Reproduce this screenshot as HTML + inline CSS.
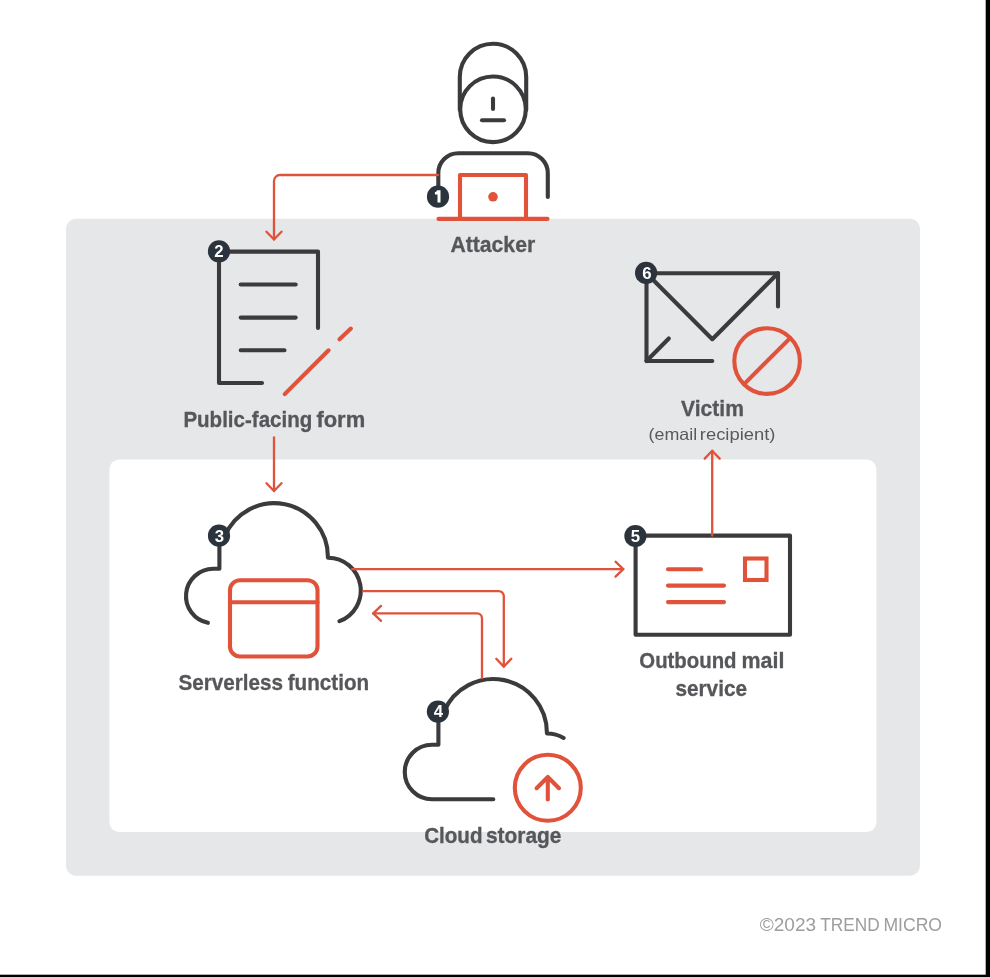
<!DOCTYPE html>
<html><head><meta charset="utf-8">
<style>
html,body{margin:0;padding:0;background:#fff;width:990px;height:977px;overflow:hidden}
svg{display:block;position:absolute;left:0;top:0;will-change:transform}
</style></head>
<body>
<svg width="990" height="977" viewBox="0 0 990 977">
<rect x="0" y="0" width="990" height="977" fill="#fff"/>
<rect x="985.7" y="0" width="4.3" height="977" fill="#000"/>
<rect x="0" y="974.7" width="990" height="2.3" fill="#000"/>
<rect x="66" y="218.7" width="854" height="657" rx="10" fill="#e6e7e8"/>
<rect x="109.4" y="459.4" width="767" height="372.7" rx="10" fill="#fff"/>

<g fill="none" stroke="#3b3b3e" stroke-width="4.1" stroke-linecap="round" stroke-linejoin="round">
  <!-- attacker -->
  <path d="M459.8 110 V77 A33.2 33.2 0 0 1 526.2 77 V110"/>
  <circle cx="493" cy="109.3" r="32.8"/>
  <path d="M493 98.5 V109"/>
  <path d="M482 120.2 H504"/>
  <path d="M438.3 190 V173.2 A20 20 0 0 1 458.3 153.2 H527.8 A20 20 0 0 1 547.8 173.2 V197"/>
  <!-- form -->
  <path d="M318 328 V251.6 H219 V383 H262"/>
  <path d="M240.7 284.5 H295.7 M240.7 317.6 H295.7 M240.7 350.2 H284.5"/>
  <!-- victim -->
  <path d="M778 306.5 V273.2 H646.5 V361 H712.3"/>
  <path d="M646.5 273.2 L712.3 339.2 L778 273.2"/>
  <path d="M646.5 361 L668.8 338.5"/>
  <!-- serverless cloud -->
  <path d="M219.4 545 V568.8 H213.3 A27.3 27.3 0 0 0 207.9 622.86"/>
  <path d="M225 535.8 A53.6 53.6 0 0 1 327.9 556.8 L328 557.7 A32.8 32.8 0 0 1 339.5 621.2"/>
  <!-- mail service -->
  <rect x="635.6" y="535.6" width="154.4" height="99.2"/>
  <!-- storage cloud -->
  <path d="M438.4 722 V744.8 H432 A27.25 27.25 0 0 0 432 799.3 H493.3"/>
  <path d="M444 711.6 A53.6 53.6 0 0 1 546.9 732.6 L547 733.5 A32.8 32.8 0 0 1 563.6 737.9"/>
</g>

<g fill="none" stroke="#e0533a" stroke-width="4.1" stroke-linecap="round" stroke-linejoin="round">
  <path d="M460 218.9 V175 H526 V218.9"/>
  <path d="M438.5 218.9 H547.5"/>
  <path d="M284.7 394.1 L328.6 350.3 M339.5 339.3 L350.9 328.6"/>
  <circle cx="767.1" cy="361.1" r="32.8"/>
  <path d="M790.1 338.1 L744.1 384.1"/>
  <rect x="230" y="580.2" width="87.5" height="76.3" rx="10"/>
  <path d="M230 602.3 H317.5"/>
  <path d="M668 569.3 H701 M668 585.6 H724 M668 602.1 H724"/>
  <rect x="745" y="558.5" width="21.5" height="21.5" stroke-linejoin="miter"/>
  <circle cx="547.8" cy="787.8" r="33"/>
  <path d="M547.8 799.5 V777 M536.6 788.2 L547.8 777 L559 788.2"/>
</g>
<circle cx="493" cy="196.8" r="4.8" fill="#e0533a"/>

<g fill="none" stroke="#e0533a" stroke-width="2.3" stroke-linecap="round" stroke-linejoin="round">
  <path d="M438 175 H280 A6 6 0 0 0 274 181 V239.5"/>
  <path d="M266.5 231.7 L274 239.5 L281.5 231.7"/>
  <path d="M274 437.5 V491"/>
  <path d="M266.5 483.2 L274 491 L281.5 483.2"/>
  <path d="M712.2 535.6 V450.8"/>
  <path d="M704.7 458.6 L712.2 450.8 L719.7 458.6"/>
  <path d="M352 569.2 H623.3"/>
  <path d="M615.5 561.7 L623.3 569.2 L615.5 576.7"/>
  <path d="M363 591.1 H498.8 A5 5 0 0 1 503.8 596.1 V666.6"/>
  <path d="M496.3 658.8 L503.8 666.6 L511.3 658.8"/>
  <path d="M482 678 V618.4 A5 5 0 0 0 477 613.4 H373.2"/>
  <path d="M381.0 605.9 L373.2 613.4 L381.0 620.9"/>
</g>

<g fill="#2b343c">
  <circle cx="438" cy="196.7" r="11.1"/>
  <circle cx="219" cy="251.4" r="11.1"/>
  <circle cx="219" cy="535.7" r="11.1"/>
  <circle cx="437.9" cy="711.6" r="11.1"/>
  <circle cx="635.4" cy="536" r="11.1"/>
  <circle cx="646.1" cy="272.9" r="11.1"/>
</g>
<g fill="#fff" font-family="Liberation Sans" font-weight="700" font-size="16.8" text-anchor="middle">
  <text x="219" y="257.4">2</text>
  <text x="219.3" y="541.9">3</text>
  <text x="438.4" y="717.4">4</text>
  <text x="635.5" y="542.2">5</text>
  <text x="647" y="279.2">6</text>
</g>

<path d="M437.1 190.3 H440.5 V202.6 H437.5 V194.4 H434.9 V192.2 Q436.8 192 437.1 190.3 Z" fill="#fff"/>
<g fill="#56575a" stroke="#56575a" stroke-width="0.3" font-family="Liberation Sans" font-weight="700" font-size="21.4">
  <text x="450.4" y="251.8" textLength="84.8" lengthAdjust="spacingAndGlyphs">Attacker</text>
  <text x="183.4" y="426.7" textLength="128.85" lengthAdjust="spacingAndGlyphs">Public-facing</text>
  <text x="316.4" y="426.7" textLength="48.82" lengthAdjust="spacingAndGlyphs">form</text>
  <text x="681.1" y="416.3" textLength="62.82" lengthAdjust="spacingAndGlyphs">Victim</text>
  <text x="178.5" y="689.5" textLength="104.62" lengthAdjust="spacingAndGlyphs">Serverless</text>
  <text x="287.7" y="689.5" textLength="81.42" lengthAdjust="spacingAndGlyphs">function</text>
  <text x="639.3" y="667.7" textLength="97.25" lengthAdjust="spacingAndGlyphs">Outbound</text>
  <text x="741.5" y="667.7" textLength="42.9" lengthAdjust="spacingAndGlyphs">mail</text>
  <text x="675.4" y="695.7" textLength="71.63" lengthAdjust="spacingAndGlyphs">service</text>
  <text x="424.2" y="843.4" textLength="58.29" lengthAdjust="spacingAndGlyphs">Cloud</text>
  <text x="486.0" y="843.4" textLength="75.44" lengthAdjust="spacingAndGlyphs">storage</text>
</g>
<g fill="#58595c" font-family="Liberation Sans" font-size="16.5">
  <text x="648.5" y="439.7" textLength="48.67" lengthAdjust="spacingAndGlyphs">(email</text>
  <text x="699.8" y="439.7" textLength="75.65" lengthAdjust="spacingAndGlyphs">recipient)</text>
</g>
<g fill="#9d9d9f" font-family="Liberation Sans" font-size="18">
  <text x="759.7" y="930.7" textLength="56.41" lengthAdjust="spacingAndGlyphs">©2023</text>
  <text x="820.3" y="930.7" textLength="59.4" lengthAdjust="spacingAndGlyphs">TREND</text>
  <text x="883.4" y="930.7" textLength="58.66" lengthAdjust="spacingAndGlyphs">MICRO</text>
</g>
</svg>
</body></html>
